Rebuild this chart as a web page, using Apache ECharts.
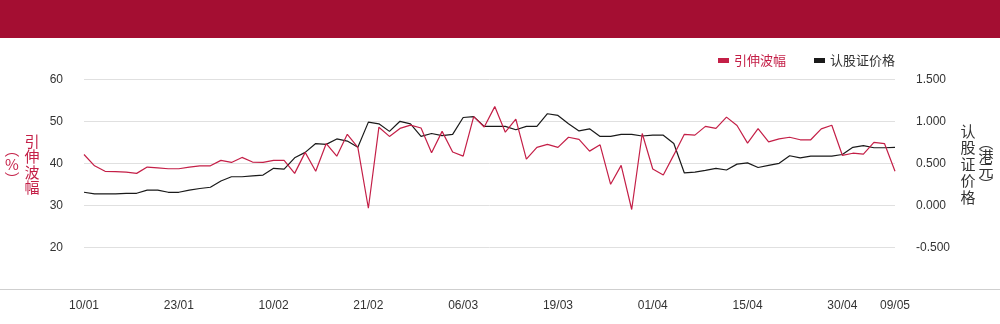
<!DOCTYPE html>
<html>
<head>
<meta charset="utf-8">
<script src="https://cdn.jsdelivr.net/npm/echarts@6/dist/echarts.min.js"></script>
<style>
html,body{margin:0;padding:0;background:#fff;}
#c{width:1000px;height:324px;}
</style>
</head>
<body>
<div id="c"></div>
<script>
const dates = ['10/01','11/01','12/01','15/01','16/01','17/01','18/01','19/01','22/01','23/01',
'24/01','25/01','26/01','29/01','30/01','31/01','02/02','06/02','10/02',
'11/02','12/02','13/02','14/02','15/02','16/02','19/02','20/02','21/02',
'22/02','23/02','26/02','27/02','28/02','29/02','01/03','05/03','06/03',
'07/03','08/03','11/03','12/03','13/03','14/03','15/03','18/03','19/03',
'20/03','21/03','22/03','25/03','26/03','27/03','28/03','29/03','01/04',
'02/04','03/04','05/04','08/04','09/04','10/04','11/04','12/04','15/04',
'16/04','17/04','18/04','19/04','22/04','23/04','24/04','25/04','30/04',
'02/05','03/05','06/05','08/05','09/05'];

const impliedVol = [42.1,39.4,38.1,38.0,37.9,37.6,39.1,38.9,38.7,38.7,
39.1,39.4,39.4,40.7,40.2,41.4,40.3,40.2,40.7,
40.7,37.6,42.6,38.1,44.7,41.7,46.9,43.8,29.3,
48.6,46.4,48.3,49.1,48.4,42.5,47.6,42.7,41.7,
51.1,48.65,53.5,47.4,50.5,41.0,43.8,44.5,43.8,
46.2,45.7,42.9,44.4,35.0,39.5,29.0,47.1,38.65,
37.2,42.0,46.9,46.7,48.8,48.3,51.0,49.0,44.8,
48.25,45.1,45.8,46.2,45.6,45.6,48.2,49.05,41.9,
42.4,42.2,45.0,44.7,38.1];

const warrantPrice = [0.155,0.135,0.135,0.135,0.143,0.143,0.18,0.18,0.155,0.155,
0.18,0.20,0.215,0.29,0.34,0.34,0.35,0.36,0.44,
0.43,0.565,0.63,0.735,0.725,0.79,0.765,0.69,0.99,
0.97,0.88,1.0,0.97,0.82,0.855,0.83,0.845,1.045,
1.055,0.94,0.94,0.94,0.90,0.94,0.94,1.09,1.07,
0.97,0.885,0.91,0.82,0.82,0.845,0.845,0.825,0.835,
0.835,0.735,0.385,0.395,0.415,0.44,0.42,0.49,0.505,
0.45,0.475,0.50,0.59,0.565,0.585,0.585,0.585,0.605,
0.69,0.71,0.685,0.685,0.69];

const seriesNames = ['引伸波幅','认股证价格'];
const leftName = ['引伸波幅','︵%︶'];
const rightName = ['认股证价格','︵港元︶'];

const RED = '#c41f47';
const DARK = '#1a1a1a';
const TXT = '#333';
const CJK = '"Noto Sans CJK SC", "Noto Sans", sans-serif';
const NUM = '"Liberation Sans", Arial, sans-serif';

const chart = echarts.init(document.getElementById('c'), null, {renderer:'canvas'});
const vert = s => s.split('').join('\n');

chart.setOption({
  animation:false,
  backgroundColor:'#fff',
  grid:{left:84,right:105,top:79.3,bottom:34.7},
  legend:{
    right:100, top:49, icon:'rect', itemWidth:11, itemHeight:5, itemGap:28,
    textStyle:{fontSize:13,fontFamily:CJK},
    data:[
      {name:seriesNames[0], textStyle:{color:RED}},
      {name:seriesNames[1], textStyle:{color:TXT}}
    ]
  },
  graphic:[
    {type:'rect', left:0, top:0, shape:{x:0,y:0,width:1000,height:38}, style:{fill:'#a40e32'}, silent:true},
    {type:'line', shape:{x1:0,y1:289.5,x2:1000,y2:289.5}, style:{stroke:'#cfcfcf',lineWidth:1}, z:10, silent:true},
    {type:'text', x:32, y:164.5, style:{text:vert(leftName[0]), fill:RED, font:'15px '+CJK, lineHeight:15.5, align:'center', verticalAlign:'middle'}},
    {type:'text', x:12, y:164, style:{text:vert(leftName[1]), fill:RED, font:'15px '+CJK, lineHeight:15, align:'center', verticalAlign:'middle'}},
    {type:'text', x:968, y:164, style:{text:vert(rightName[0]), fill:TXT, font:'15px '+CJK, lineHeight:16.4, align:'center', verticalAlign:'middle'}},
    {type:'text', x:986, y:163, style:{text:vert(rightName[1]), fill:TXT, font:'15px '+CJK, lineHeight:14, align:'center', verticalAlign:'middle'}}
  ],
  xAxis:{
    type:'category', data:dates, boundaryGap:false,
    axisLine:{show:false}, axisTick:{show:false},
    axisLabel:{
      interval:(i)=> i%9===0 || i===dates.length-1,
      color:TXT, fontSize:12, fontFamily:NUM, margin:10
    },
    splitLine:{show:false}
  },
  yAxis:[
    {
      type:'value', min:10, max:60, interval:10, position:'left',
      axisLine:{show:false}, axisTick:{show:false},
      axisLabel:{color:TXT, fontSize:12, fontFamily:NUM, margin:21,
        formatter:v=> v===10 ? '' : String(v)},
      splitLine:{lineStyle:{color:'#e0e0e0',width:1}}
    },
    {
      type:'value', min:-1, max:1.5, interval:0.5, position:'right',
      axisLine:{show:false}, axisTick:{show:false},
      axisLabel:{color:TXT, fontSize:12, fontFamily:NUM, margin:21,
        formatter:v=> v===-1 ? '' : v.toFixed(3)},
      splitLine:{show:false}
    }
  ],
  series:[
    {name:seriesNames[0], type:'line', yAxisIndex:0, data:impliedVol, symbol:'none',
     lineStyle:{color:RED,width:1.2}, itemStyle:{color:RED}, z:3},
    {name:seriesNames[1], type:'line', yAxisIndex:1, data:warrantPrice, symbol:'none',
     lineStyle:{color:DARK,width:1.2}, itemStyle:{color:DARK}, z:2}
  ]
});
</script>
</body>
</html>
